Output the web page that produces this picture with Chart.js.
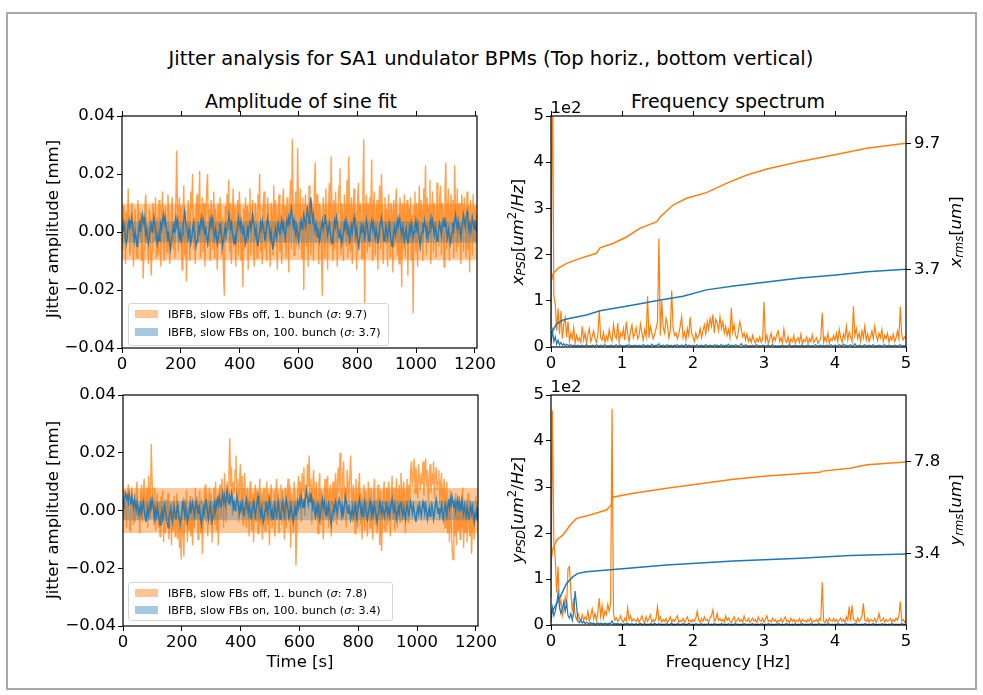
<!DOCTYPE html>
<html>
<head>
<meta charset="utf-8">
<script src="https://cdn.jsdelivr.net/npm/chart.js@4.4.1/dist/chart.umd.min.js"></script>
<style>
  body { margin: 0; background: #fff; width: 983px; height: 695px; position: relative; overflow: hidden;
         font-family: "DejaVu Sans", sans-serif; color: #000; }
  .border { position: absolute; left: 6px; top: 12px; width: 967px; height: 674px; border: 2px solid #a8a8a8; }
  canvas { position: absolute; }
  .t { position: absolute; white-space: nowrap; transform: translate(-50%, -50%); }
  .rot { transform: translate(-50%, -50%) rotate(-90deg); }
  .lab { font-size: 16.5px; }
  .ttl { font-size: 19px; }
  .m i { font-style: italic; }
  .m sub { font-size: 70%; vertical-align: -0.25em; line-height: 0; }
  .m sup { font-size: 70%; vertical-align: 0.55em; line-height: 0; }
  .leg { position: absolute; border: 1px solid #d6d6d6; border-radius: 3px; background: rgba(255,255,255,0.8); font-size: 11.2px; }
  .leg .p { position: absolute; left: 6px; width: 23px; height: 8px; }
  .leg .s { position: absolute; left: 39px; white-space: nowrap; transform: translateY(-50%); }
</style>
</head>
<body>
<div class="border"></div>

<div class="t" style="left:491px;top:58px;font-size:19.5px">Jitter analysis for SA1 undulator BPMs (Top horiz., bottom vertical)</div>
<div class="t ttl" style="left:301px;top:101px">Amplitude of sine fit</div>
<div class="t ttl" style="left:728px;top:101px">Frequency spectrum</div>

<canvas id="c1" width="455" height="277" style="left:52px;top:101px"></canvas>
<canvas id="c2" width="475" height="276" style="left:481px;top:101px"></canvas>
<canvas id="c3" width="455" height="276" style="left:53px;top:380px"></canvas>
<canvas id="c4" width="475" height="275" style="left:481px;top:380px"></canvas>

<div class="t lab rot" style="left:52px;top:229px">Jitter amplitude [mm]</div>
<div class="t lab rot" style="left:52px;top:510px">Jitter amplitude [mm]</div>
<div class="t lab rot m" style="left:517px;top:232px"><i>x</i><sub><i>PSD</i></sub>[<i>um</i><sup>2</sup>/<i>Hz</i>]</div>
<div class="t lab rot m" style="left:517px;top:510px"><i>y</i><sub><i>PSD</i></sub>[<i>um</i><sup>2</sup>/<i>Hz</i>]</div>
<div class="t lab rot m" style="left:955px;top:232px"><i>x</i><sub><i>rms</i></sub>[<i>um</i>]</div>
<div class="t lab rot m" style="left:955px;top:510px"><i>y</i><sub><i>rms</i></sub>[<i>um</i>]</div>
<div class="t lab" style="left:566px;top:107px">1e2</div>
<div class="t lab" style="left:566px;top:386px">1e2</div>
<div class="t lab" style="left:300px;top:661px">Time [s]</div>
<div class="t lab" style="left:728px;top:661px">Frequency [Hz]</div>

<div class="leg" style="left:128px;top:303px;width:259px;height:41px">
  <div class="p" style="top:6px;background:rgba(255,127,14,0.45)"></div>
  <div class="s" style="top:10px">IBFB, slow FBs off, 1. bunch (<i>σ</i>: 9.7)</div>
  <div class="p" style="top:24px;background:rgba(31,119,180,0.4)"></div>
  <div class="s" style="top:28px">IBFB, slow FBs on, 100. bunch (<i>σ</i>: 3.7)</div>
</div>
<div class="leg" style="left:128px;top:582px;width:263px;height:37px">
  <div class="p" style="top:6px;background:rgba(255,127,14,0.45)"></div>
  <div class="s" style="top:10px">IBFB, slow FBs off, 1. bunch (<i>σ</i>: 7.8)</div>
  <div class="p" style="top:23px;background:rgba(31,119,180,0.4)"></div>
  <div class="s" style="top:27px">IBFB, slow FBs on, 100. bunch (<i>σ</i>: 3.4)</div>
</div>

<script>
// jitter amplitude samples in um, one every DT seconds
const DT = 3;
const T_MAX = 1207;
const timeTicks = [0, 200, 400, 600, 800, 1000, 1200];
const sigmaX = [9.7, 3.7];
const sigmaY = [7.8, 3.4];

const xOrange = [
  2, -6, 9, 4, -11, 7, -3, 15, 1, -8, -4, 10, 6, -12, 3, 8, -5, -9, 11, 4,
  -2, 7, -10, 5, -16, -6, 9, 13, -4, 2, -11, 8, 4, -15, -7, 10, 6, -3, 12, -9,
  5, -8, 11, 3, -12, 7, 14, -5, -10, 9, 2, -7, 13, 6, -11, -4, 8, 12, -6, 3,
  -9, 10, 28, 6, -7, 12, -3, 9, -13, 4, 16, -8, 7, -17, -5, 11, 3, -10, 14, 8,
  20, -6, 5, -11, 9, 13, -4, 7, 21, -9, 2, 12, -7, 10, -12, 6, 15, 20, -5, 8,
  -10, 11, 4, -6, 14, -9, 8, 3, -13, 10, -4, 12, 7, -8, 5, -14, -22, 9, -3, 13,
  6, 18, -7, 10, -11, 4, 15, -5, 9, -12, 3, 11, -8, 14, 6, -10, 2, -19, 8, -6,
  12, -4, 9, -13, 7, 15, -8, 3, 11, -6, -12, 10, 5, -9, 13, 8, 20, -7, 4, -11,
  9, 14, -6, 4, -10, 12, 7, -3, -12, 10, 5, -8, 16, -5, 11, 3, -13, 8, 13, -7,
  6, -11, 10, 15, -4, 9, -9, 12, 4, -14, 8, 18, -6, 32, 11, -8, 7, 14, -5, 29,
  10, -6, 15, 4, -9, 12, -20, 7, 13, -5, 9, -12, 16, 3, -8, 11, 6, -10, 14, 24,
  -4, 13, 8, -11, 10, 5, -7, -22, 12, 6, -9, 15, 3, -13, 9, 17, -5, 26, 7, -10,
  11, -6, 14, 4, -12, 9, 16, 22, -8, 10, 5, -10, 13, 7, -5, 18, -9, 26, 8, -7,
  12, -11, 9, 15, -4, 7, -13, 11, 17, -6, 10, 4, -9, 14, 32, -25, 8, 13, -7, 10,
  -5, 12, 6, 25, -10, 9, 14, -8, 4, 11, -13, 7, 16, -6, 20, 9, -11, 5, 12, -4,
  8, -12, 13, 4, -9, 10, 6, -14, 11, -5, 9, 15, -8, 3, -11, 12, 7, -19, 10, -6,
  13, -9, 5, 11, -15, 8, -4, 12, -10, 6, -28, 9, 14, -7, 10, -12, 4, 16, -6, 11,
  7, -10, 15, 5, 23, -8, 12, -4, 9, 18, -11, 6, 14, -7, 10, 3, -9, 17, 8, -5,
  12, 16, -8, 10, 5, -12, 14, 24, -6, 9, 15, -10, 7, 13, -4, 11, -9, 23, 8, -7,
  15, -5, 10, 6, -11, 13, 8, -7, 12, 4, -9, 14, -6, 9, -14, 11, 5, -8, 13, -3,
  9, -4, 6
];
const xBlue = [
  2, 0, 3, 1, -2, -4, -1, 2, 4, 1, 3, 5, 2, -1, -3, 0, -2, -5, -3, 1,
  3, 0, 4, 6, 3, 5, 2, -1, 1, -2, -4, -2, 1, 3, 0, 2, 5, 3, 1, -2,
  -4, -1, -3, 0, 3, 1, 4, 6, 3, 5, 2, 0, -3, -1, -4, -6, -3, -1, 2, 0,
  3, 5, 2, 4, 1, -2, 0, -3, -1, 2, 4, 7, 4, 2, 0, -2, 1, -1, -4, -2,
  1, 3, 0, -2, -5, -3, -1, 2, 0, 3, 5, 2, 4, 1, -1, 2, -2, -4, -1, 1,
  4, 2, 5, 3, 0, -2, 1, -1, -4, -2, 0, 3, 1, -2, -5, -3, 0, 2, -1, 1,
  3, 6, 4, 1, 3, 0, -2, -4, -1, -3, 0, 2, 5, 3, 1, 4, 2, -1, 1, -2,
  -4, -2, 1, -1, 2, 4, 1, 3, 6, 4, 2, -1, 1, -3, -5, -2, 0, 3, 1, 4,
  2, 0, -3, -1, 2, 5, 3, 1, -2, 0, -4, -6, -3, -1, 1, -2, 0, 3, 1, -1,
  2, 4, 1, 3, 0, -2, 1, 4, 2, 5, 3, 6, 8, 5, 2, 4, 1, -1, 2, 0,
  -3, -1, 2, 4, 1, 3, 6, 4, 2, 5, 8, 6, 3, 9, 12, 7, 4, 6, 2, 0,
  3, 1, -2, 0, -3, -1, 2, 4, 1, 3, 6, 4, 2, -1, 1, 3, 0, -2, -4, -1,
  1, 4, 2, 5, 3, 0, -2, 1, -1, -4, -2, 0, 3, 1, 4, 2, -1, 1, -3, -1,
  2, 0, 3, 5, 2, -1, 1, -2, -5, -3, -1, 2, 0, 3, 1, -2, 0, 4, 2, -1,
  -3, -1, 2, 4, 1, 3, 0, -2, 1, -1, -4, -2, 1, 3, 5, 2, 0, -3, -1, 2,
  0, -2, 1, 3, 0, -3, -5, -2, 0, 2, -1, 1, 4, 2, 5, 3, 1, -1, 2, 0,
  -3, -1, 1, -2, -4, -1, 2, 0, 3, 1, -2, 0, 2, 4, 1, 3, 0, -2, -5, -2,
  0, 3, 1, 4, 2, -1, 1, -2, 0, 3, 5, 2, 4, 1, -1, 2, 0, -3, -1, 1,
  3, 1, -1, 2, 4, 2, 5, 3, 0, -2, 1, -1, -4, -2, 0, 3, 1, 4, 6, 3,
  1, 4, 2, 0, -2, 1, 3, 6, 4, 2, 5, 7, 4, 1, 3, 0, 2, 5, 3, 1,
  4, 2, 0
];
const yOrange = [
  4, -3, 7, 2, -6, 5, 9, -2, -7, 3, 8, 1, -5, 6, -4, 7, 10, -3, 2, -8,
  5, 9, -4, 6, 11, -2, 3, 8, -6, 12, 7, -3, 23, 10, 4, -5, 8, -7, 2, 6,
  -6, 3, -9, 5, -4, 7, -11, 2, -8, 4, -3, 6, -10, -5, 1, -12, 3, -7, 5, -9,
  -4, 6, -10, 2, -13, -6, -17, 3, -8, -16, 4, -5, 7, -11, 1, -7, 5, -9, 3, -12,
  2, -6, 8, -3, 5, -10, 1, 7, -8, 4, -15, -6, 3, 9, -4, 6, -9, 2, 8, -5,
  6, -11, 3, 8, -5, 10, -7, 4, -12, 6, 9, -3, 11, 5, -6, 13, 7, -4, 10, 3,
  12, 25, 8, 15, -2, 10, 6, 14, 19, 5, 11, -4, 9, 16, 3, 12, -5, 7, 13, 2,
  -6, 8, 4, -9, 10, 2, -7, 6, -11, 5, 9, -4, 7, -8, 3, 11, -5, 6, -10, 4,
  8, -7, 3, 10, -5, 6, -12, 4, 9, -6, 2, 7, -9, 5, 11, -3, 6, -8, 4, 9,
  -5, 7, 3, -10, 8, -6, 5, 11, -4, 9, -13, 6, 2, -8, 10, 4, -19, -7, 6, 12,
  5, 10, -4, 13, 7, 15, -2, 9, 4, 16, 8, 19, 3, 11, -5, 8, 14, 6, -3, 10,
  4, -8, 9, 13, -5, 7, 2, -10, 6, 11, -3, 8, 12, -6, 5, 9, -9, 3, 10, -4,
  7, 13, -5, 10, 15, 6, 20, 9, -3, 12, 17, 4, 8, -6, 14, 10, 3, 11, 19, 7,
  -4, 9, 5, -8, 11, 3, -6, 8, 13, -5, 6, -10, 4, 9, -7, 7, 2, -9, 10, 5,
  -6, 8, 3, -10, 6, 11, -5, 4, -8, 9, 2, -12, 7, -14, -4, 6, 10, -7, 3, 8,
  -5, 10, 6, -9, 4, 12, -3, 8, -7, 5, 11, -6, 3, 9, -4, 13, 7, -2, 10, 6,
  -8, 5, 11, -4, 9, 3, 14, 17, 8, 12, 18, 6, 15, 10, 4, 16, 11, 7, 13, 9,
  17, 5, 12, 18, 8, 14, 3, 11, 16, 6, 13, 9, 17, 4, 12, 15, 7, 10, 14, 2,
  9, 13, -3, 8, 11, -6, 5, 10, -8, 4, -11, 7, -5, -13, -17, 3, -9, 6, -12, 2,
  -7, 5, -10, 3, -6, 8, -13, 1, -8, 4, -11, 6, -4, -9, 2, -15, -6, 3, -10, -2,
  5, -4, 1
];
const yBlue = [
  1, 3, 5, 6, 4, 5, 3, 6, 4, 2, 5, 3, 1, 4, 2, 0, 3, 1, -2, 0,
  2, -1, 1, 3, 0, -2, -4, -1, 1, -2, 0, 3, 1, 4, 2, -1, -3, 0, -2, 1,
  -1, -3, -5, -2, 0, -3, -1, 2, 0, -2, -4, -6, -3, -1, 1, -2, -4, -1, 1, -1,
  -3, 0, 2, -1, -3, -5, -2, 1, 3, 0, -2, 1, -1, -4, -2, 0, 2, -1, 1, 3,
  0, -2, 1, 3, 1, -1, 2, 0, -3, -5, -2, 1, -1, 2, 4, 1, -1, -3, 0, 2,
  -1, -4, -2, 1, 3, 0, 2, 4, 2, 5, 3, 1, 4, 6, 3, 5, 2, 4, 7, 4,
  2, 5, 3, 6, 4, 1, 3, 0, 2, 5, 3, 1, -1, 2, 0, 3, 1, -2, 0, 2,
  4, 1, -1, 2, 0, -3, -1, 1, 3, 0, -2, 1, 3, 5, 2, 0, -2, 1, -1, -4,
  -2, 0, 3, 1, -1, 2, 4, 1, -2, 0, -3, -1, 2, 0, -2, 1, 3, 0, -3, -1,
  1, 3, 0, -2, 1, 4, 2, 0, -3, -1, 2, 0, -2, -4, -1, 1, -2, 0, 3, 1,
  4, 2, 5, 3, 1, 4, 2, 5, 7, 4, 2, 5, 3, 6, 4, 1, 3, 0, -2, 1,
  -1, 2, 0, -3, -1, 2, 4, 1, 3, 0, -2, 1, -1, 2, 0, -3, -5, -2, 0, 2,
  0, 3, 1, -1, 2, 4, 2, 0, -2, 1, -1, 2, 5, 3, 1, -1, 2, 0, -3, -1,
  1, -2, 0, 2, -1, -3, 0, 2, 4, 1, -1, 1, -2, 0, 3, 1, -1, -3, -1, 1,
  3, 0, -2, 1, -1, 2, 0, -2, -4, -1, 1, 3, 1, -1, 2, 0, -2, 0, 3, 1,
  -1, 1, -2, 0, 2, 4, 1, -1, 2, 0, -3, -1, 1, -1, 2, 3, 0, -2, 1, -1,
  -3, 0, 2, 0, -2, 1, 3, 1, -1, 2, 0, -2, -4, -1, 1, -1, 2, 0, -2, 1,
  3, 1, -1, 2, 0, -3, -1, 1, -2, 0, 2, 0, -3, -1, 2, 4, 1, -1, 1, -2,
  0, 2, -1, -3, 0, 2, 0, -2, 1, 3, 1, 4, 2, 5, 3, 1, 3, 0, 2, 4,
  1, 3, 0, 2, 4, 1, -1, 2, 0, -2, 1, -1, -3, 0, 2, -1, 1, -2, -4, -1,
  -2, 1, -3
];

// power spectral density in um^2/Hz, one bin every FREQ_STEP Hz from 0 to 5 Hz
const FREQ_STEP = 0.02;
const xPsdOrange = [
  40, 650, 110, 92, 35, 84, 28, 78, 18, 50, 64, 22, 55, 12, 30, 18, 42, 8, 25, 14,
  20, 10, 45, 15, 30, 8, 28, 40, 12, 22, 35, 18, 10, 26, 80, 20, 15, 32, 10, 24,
  14, 38, 20, 12, 48, 25, 18, 52, 10, 30, 22, 40, 15, 55, 28, 12, 35, 48, 20, 30,
  42, 18, 25, 50, 30, 15, 38, 22, 110, 20, 45, 30, 18, 28, 40, 55, 235, 25, 100, 42,
  30, 62, 48, 20, 35, 122, 40, 25, 30, 18, 28, 45, 65, 20, 32, 15, 40, 25, 65, 30,
  22, 12, 30, 18, 25, 40, 20, 35, 48, 28, 55, 38, 62, 45, 70, 30, 60, 52, 35, 65,
  40, 55, 30, 45, 25, 38, 20, 85, 32, 48, 25, 18, 35, 55, 40, 22, 30, 15, 28, 12,
  20, 10, 25, 15, 8, 18, 12, 22, 10, 16, 98, 12, 25, 8, 18, 30, 10, 22, 14, 28,
  35, 12, 20, 8, 38, 15, 10, 22, 6, 18, 12, 25, 8, 15, 20, 10, 28, 6, 16, 12,
  22, 8, 18, 12, 26, 10, 15, 20, 8, 14, 18, 74, 10, 22, 12, 30, 8, 18, 14, 25,
  15, 30, 12, 38, 20, 10, 28, 18, 45, 15, 32, 22, 12, 88, 25, 40, 18, 30, 12, 35,
  20, 45, 15, 28, 12, 22, 35, 18, 45, 25, 14, 30, 20, 38, 12, 25, 18, 30, 10, 22,
  15, 28, 12, 20, 35, 18, 87, 25, 15, 22, 18
];
const xPsdBlue = [
  8, 35, 12, 22, 6, 15, 5, 10, 4, 7, 3, 6, 4, 3, 5, 2, 4, 3, 2, 4,
  3, 2, 4, 2, 3, 5, 2, 3, 2, 4, 3, 2, 5, 3, 2, 4, 2, 3, 5, 2,
  3, 2, 4, 3, 2, 3, 5, 2, 3, 4, 2, 3, 2, 4, 3, 5, 2, 3, 2, 4,
  3, 2, 4, 2, 3, 5, 3, 2, 4, 3, 2, 6, 3, 2, 4, 3, 7, 2, 3, 4,
  2, 3, 5, 2, 4, 3, 2, 4, 3, 5, 2, 3, 4, 2, 3, 6, 2, 4, 3, 2,
  4, 2, 3, 5, 2, 3, 4, 2, 3, 5, 3, 2, 4, 3, 2, 5, 3, 4, 2, 3,
  5, 3, 2, 4, 3, 6, 2, 3, 4, 2, 5, 3, 2, 4, 7, 3, 2, 5, 3, 2,
  3, 2, 4, 2, 3, 5, 2, 3, 2, 4, 3, 2, 3, 4, 2, 3, 5, 2, 3, 2,
  2, 3, 2, 4, 2, 3, 2, 3, 5, 2, 3, 2, 4, 2, 3, 2, 3, 4, 2, 3,
  2, 4, 3, 2, 3, 2, 5, 3, 2, 3, 4, 2, 3, 2, 4, 3, 2, 5, 3, 2,
  4, 3, 2, 5, 3, 2, 6, 3, 4, 2, 3, 5, 2, 3, 7, 3, 2, 4, 3, 2,
  3, 5, 2, 3, 4, 2, 3, 5, 2, 3, 2, 4, 3, 2, 3, 5, 2, 3, 4, 2,
  3, 2, 4, 3, 2, 3, 5, 2, 3, 2, 3
];
const yPsdOrange = [
  60, 467, 180, 145, 70, 127, 40, 55, 20, 35, 60, 40, 123, 127, 70, 30, 58, 20, 12, 25,
  15, 8, 22, 10, 18, 12, 30, 8, 20, 35, 14, 25, 10, 28, 58, 18, 42, 15, 30, 22,
  45, 30, 48, 470, 25, 10, 15, 8, 12, 20, 10, 6, 15, 8, 37, 12, 20, 8, 14, 10,
  8, 15, 6, 12, 20, 10, 5, 18, 8, 14, 22, 6, 12, 8, 15, 40, 10, 18, 6, 12,
  8, 14, 5, 10, 18, 6, 12, 8, 15, 20, 6, 10, 8, 14, 5, 12, 18, 8, 10, 6,
  12, 8, 15, 30, 10, 6, 14, 8, 18, 10, 12, 6, 15, 20, 33, 8, 12, 25, 10, 14,
  8, 12, 6, 20, 10, 15, 8, 5, 12, 18, 6, 10, 15, 8, 12, 6, 20, 10, 8, 14,
  6, 10, 15, 8, 12, 5, 18, 10, 8, 14, 6, 12, 20, 8, 10, 6, 15, 8, 12, 5,
  10, 8, 14, 6, 12, 18, 8, 10, 5, 15, 8, 12, 6, 10, 8, 14, 5, 12, 8, 10,
  6, 12, 8, 15, 5, 10, 8, 12, 6, 14, 10, 93, 8, 5, 12, 6, 15, 10, 8, 14,
  8, 12, 6, 10, 15, 8, 12, 6, 18, 10, 40, 8, 43, 12, 10, 6, 15, 8, 12, 20,
  47, 10, 8, 15, 6, 12, 10, 8, 14, 6, 12, 25, 8, 10, 15, 6, 12, 8, 10, 14,
  6, 12, 8, 15, 10, 20, 51, 8, 12, 6, 10
];
const yPsdBlue = [
  5, 38, 20, 30, 45, 70, 40, 25, 35, 50, 30, 48, 20, 15, 25, 10, 30, 74, 42, 8,
  5, 12, 4, 8, 3, 6, 4, 2, 5, 3, 4, 2, 3, 5, 2, 4, 3, 2, 4, 3,
  2, 4, 3, 9, 2, 3, 2, 4, 1, 3, 2, 1, 3, 2, 4, 1, 2, 3, 1, 2,
  3, 1, 2, 4, 1, 2, 3, 1, 2, 1, 3, 2, 1, 4, 2, 1, 3, 2, 1, 2,
  1, 3, 2, 1, 2, 4, 1, 2, 1, 3, 2, 1, 2, 3, 1, 2, 1, 4, 2, 1,
  2, 1, 3, 2, 1, 2, 3, 1, 2, 1, 2, 3, 1, 2, 1, 3, 2, 1, 2, 1,
  3, 2, 1, 2, 1, 3, 1, 2, 1, 2, 3, 1, 2, 1, 2, 1, 3, 2, 1, 2,
  1, 2, 3, 1, 2, 1, 2, 1, 3, 2, 1, 2, 1, 3, 2, 1, 2, 1, 2, 1,
  3, 2, 1, 2, 1, 2, 3, 1, 2, 1, 2, 1, 3, 1, 2, 1, 2, 3, 1, 2,
  1, 2, 1, 3, 2, 1, 2, 1, 2, 3, 1, 2, 1, 2, 1, 3, 2, 1, 2, 1,
  2, 1, 3, 2, 1, 2, 1, 2, 3, 1, 2, 1, 2, 1, 3, 2, 1, 2, 1, 2,
  1, 3, 2, 1, 2, 1, 2, 3, 1, 2, 1, 2, 1, 3, 2, 1, 2, 1, 2, 1,
  3, 2, 1, 2, 1, 2, 1, 3, 2, 1, 2
];

// cumulative rms (um) against frequency (Hz)
const xRmsOrangeF = [0.01, 0.03, 0.1, 0.22, 0.41, 0.64, 0.69, 0.88, 1.07, 1.25, 1.49, 1.54, 1.72, 1.91, 2.19, 2.47, 2.76, 3.04, 3.51, 3.98, 4.45, 5.0];
const xRmsOrange  = [3.19, 3.5, 3.75, 3.98, 4.22, 4.46, 4.72, 4.94, 5.25, 5.65, 5.97, 6.2, 6.76, 7.08, 7.35, 7.79, 8.19, 8.48, 8.83, 9.14, 9.46, 9.7];
const xRmsBlueF = [0.0, 0.03, 0.08, 0.17, 0.27, 0.5, 0.69, 1.16, 1.54, 1.86, 2.19, 2.57, 3.04, 3.51, 3.98, 4.45, 5.0];
const xRmsBlue  = [0.65, 0.81, 1.10, 1.29, 1.37, 1.52, 1.73, 2.0, 2.24, 2.42, 2.72, 2.9, 3.1, 3.28, 3.42, 3.58, 3.7];
const yRmsOrangeF = [0.01, 0.02, 0.08, 0.17, 0.27, 0.36, 0.55, 0.78, 0.85, 0.87, 1.16, 1.63, 2.1, 2.57, 3.04, 3.79, 3.82, 4.21, 4.45, 5.0];
const yRmsOrange  = [3.27, 3.59, 4.07, 4.31, 4.78, 5.1, 5.26, 5.5, 5.74, 6.11, 6.3, 6.54, 6.75, 6.97, 7.13, 7.3, 7.36, 7.5, 7.66, 7.8];
const yRmsBlueF = [0.0, 0.03, 0.13, 0.22, 0.31, 0.38, 0.5, 0.88, 1.63, 2.57, 3.51, 4.21, 5.0];
const yRmsBlue  = [0.56, 0.72, 1.36, 1.99, 2.31, 2.47, 2.55, 2.66, 2.87, 3.06, 3.19, 3.32, 3.4];

const ORANGE = "#ff7f0e";
const BLUE = "#1f77b4";

Chart.defaults.font.family = "DejaVu Sans";
Chart.defaults.font.size = 16.5;
Chart.defaults.color = "#000";
Chart.defaults.animation = false;

const series = (vals, step) => vals.map((v, i) => ({ x: i * step, y: v }));
const pairs = (xs, ys) => xs.map((x, i) => ({ x, y: ys[i] }));

// spines round the plot area plus the top tick marks
const frame = {
  id: "frame",
  afterDatasetsDraw(chart, args, opts) {
    const { ctx, chartArea: a } = chart;
    ctx.save();
    ctx.strokeStyle = "#000";
    ctx.lineWidth = 1.2;
    ctx.strokeRect(a.left, a.top, a.right - a.left, a.bottom - a.top);
    if (opts.topTicks) {
      const sx = chart.scales.x;
      ctx.lineWidth = 1;
      ctx.beginPath();
      sx.ticks.forEach(t => {
        const p = Math.round(sx.getPixelForValue(t.value)) + 0.5;
        ctx.moveTo(p, a.top);
        ctx.lineTo(p, a.top - 5);
      });
      ctx.stroke();
    }
    ctx.restore();
  }
};

const tickGrid = { drawOnChartArea: false, color: "#000", tickLength: 5 };

function timeChart(id, orange, blue, sig, topTicks) {
  new Chart(document.getElementById(id), {
    type: "line",
    data: {
      datasets: [
        { data: [{ x: 0, y: sig[0] }, { x: T_MAX, y: sig[0] }], fill: { value: -sig[0] },
          backgroundColor: "rgba(255,127,14,0.42)", borderWidth: 0, order: 4 },
        { data: series(orange, DT), borderColor: "rgba(255,127,14,0.72)", borderWidth: 1.4, order: 3 },
        { data: [{ x: 0, y: sig[1] }, { x: T_MAX, y: sig[1] }], fill: { value: -sig[1] },
          backgroundColor: "rgba(31,119,180,0.3)", borderWidth: 0, order: 2 },
        { data: series(blue, DT), borderColor: "rgba(31,119,180,0.9)", borderWidth: 1.4, order: 1 }
      ]
    },
    options: {
      responsive: false,
      layout: { padding: { top: 15, right: 30, left: 0, bottom: 0 } },
      elements: { point: { radius: 0 }, line: { tension: 0 } },
      plugins: { legend: { display: false }, tooltip: { enabled: false }, frame: { topTicks } },
      scales: {
        x: {
          type: "linear", min: 0, max: T_MAX,
          afterBuildTicks: s => { s.ticks = timeTicks.map(v => ({ value: v })); },
          ticks: { maxRotation: 0, padding: 2, callback: v => String(v) },
          grid: tickGrid, border: { display: false },
          afterFit: s => { s.height = 30; }
        },
        y: {
          min: -40, max: 40,
          ticks: { stepSize: 20, padding: 2, callback: v => (v / 1000).toFixed(2).replace("-", "\u2212") },
          grid: tickGrid, border: { display: false },
          afterFit: s => { s.width = 70; }
        }
      }
    },
    plugins: [frame]
  });
}

function spectrumChart(id, psdO, psdB, rmsOF, rmsO, rmsBF, rmsB, topTicks) {
  new Chart(document.getElementById(id), {
    type: "line",
    data: {
      datasets: [
        { data: series(psdO, FREQ_STEP), borderColor: ORANGE, borderWidth: 1.2, yAxisID: "y", order: 4 },
        { data: series(psdB, FREQ_STEP), borderColor: BLUE, borderWidth: 1.2, yAxisID: "y", order: 3 },
        { data: pairs(rmsOF, rmsO), borderColor: ORANGE, borderWidth: 1.5, yAxisID: "yr", order: 2 },
        { data: pairs(rmsBF, rmsB), borderColor: BLUE, borderWidth: 1.5, yAxisID: "yr", order: 1 }
      ]
    },
    options: {
      responsive: false,
      layout: { padding: { top: 15, right: 0, left: 0, bottom: 0 } },
      elements: { point: { radius: 0 }, line: { tension: 0 } },
      plugins: { legend: { display: false }, tooltip: { enabled: false }, frame: { topTicks } },
      scales: {
        x: {
          type: "linear", min: 0, max: 5,
          ticks: { stepSize: 1, maxRotation: 0, padding: 2 },
          grid: tickGrid, border: { display: false },
          afterFit: s => { s.height = 30; }
        },
        y: {
          min: 0, max: 500,
          ticks: { stepSize: 100, padding: 2, callback: v => String(v / 100) },
          grid: tickGrid, border: { display: false },
          afterFit: s => { s.width = 70; }
        },
        yr: {
          position: "right", min: 0, max: 11,
          afterBuildTicks: s => { s.ticks = [{ value: rmsO[rmsO.length - 1] }, { value: rmsB[rmsB.length - 1] }]; },
          ticks: { padding: 3, callback: v => v.toFixed(1) },
          grid: tickGrid, border: { display: false },
          afterFit: s => { s.width = 50; }
        }
      }
    },
    plugins: [frame]
  });
}

timeChart("c1", xOrange, xBlue, sigmaX, true);
spectrumChart("c2", xPsdOrange, xPsdBlue, xRmsOrangeF, xRmsOrange, xRmsBlueF, xRmsBlue, true);
timeChart("c3", yOrange, yBlue, sigmaY, false);
spectrumChart("c4", yPsdOrange, yPsdBlue, yRmsOrangeF, yRmsOrange, yRmsBlueF, yRmsBlue, false);
</script>
</body>
</html>
